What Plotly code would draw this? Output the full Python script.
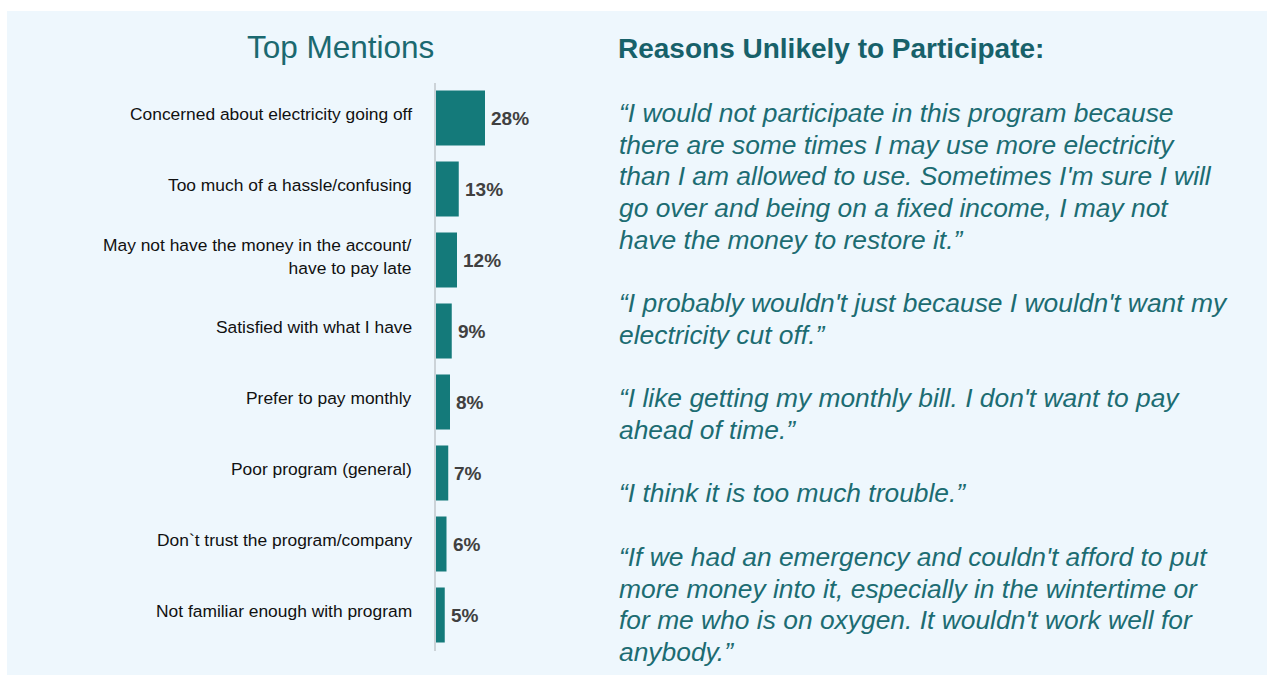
import plotly.graph_objects as go

# Survey results: top mentions for not participating
categories = [
    "Concerned about electricity going off",
    "Too much of a hassle/confusing",
    "May not have the money in the account/<br>have to pay late",
    "Satisfied with what I have",
    "Prefer to pay monthly",
    "Poor program (general)",
    "Don`t trust the program/company",
    "Not familiar enough with program",
]
values = [28, 13, 12, 9, 8, 7, 6, 5]
value_labels = [f"{v}%" for v in values]

chart_title = "Top Mentions"
quotes_heading = "Reasons Unlikely to Participate:"
quote_lines = [
    "“I would not participate in this program because",
    "there are some times I may use more electricity",
    "than I am allowed to use. Sometimes I'm sure I will",
    "go over and being on a fixed income, I may not",
    "have the money to restore it.”",
    "",
    "“I probably wouldn't just because I wouldn't want my",
    "electricity cut off.”",
    "",
    "“I like getting my monthly bill. I don't want to pay",
    "ahead of time.”",
    "",
    "“I think it is too much trouble.”",
    "",
    "“If we had an emergency and couldn't afford to put",
    "more money into it, especially in the wintertime or",
    "for me who is on oxygen. It wouldn't work well for",
    "anybody.”",
]

W, H = 1268, 675
FONT = "Liberation Sans"
BAR = "#147A7A"
TEAL_TITLE = "#1B6970"
TEAL_HEAD = "#17616A"
TEAL_QUOTE = "#1C6C72"
PANEL = "#EEF7FD"


def px_x(x):
    return x / W


def px_y(y):
    return 1 - y / H


fig = go.Figure()

fig.add_trace(go.Bar(
    y=categories,
    x=values,
    orientation="h",
    marker=dict(color=BAR, line=dict(width=0)),
    hoverinfo="skip",
))

annotations = []

# category labels, right-aligned left of the axis
for cat in categories:
    annotations.append(dict(
        x=px_x(414), xref="paper", xanchor="right",
        y=cat, yref="y", yanchor="middle", yshift=4,
        text=cat, align="right", showarrow=False,
        font=dict(family=FONT, size=17.4, color="#111111"),
    ))

# value labels just past the end of each bar
for cat, v, lab in zip(categories, values, value_labels):
    annotations.append(dict(
        x=v, xref="x", xanchor="left", xshift=4,
        y=cat, yref="y", yanchor="middle",
        text=f"<b>{lab}</b>", showarrow=False,
        font=dict(family=FONT, size=19, color="#404040"),
    ))

annotations.append(dict(
    x=px_x(340), xref="paper", xanchor="center",
    y=px_y(47), yref="paper", yanchor="middle",
    text=chart_title, showarrow=False,
    font=dict(family=FONT, size=31.5, color=TEAL_TITLE),
))

annotations.append(dict(
    x=px_x(616), xref="paper", xanchor="left",
    y=px_y(48), yref="paper", yanchor="middle",
    text=f"<b>{quotes_heading}</b>", showarrow=False,
    font=dict(family=FONT, size=28, color=TEAL_HEAD),
))

line_top, line_step = 113, 31.7
for i, line in enumerate(quote_lines):
    if not line:
        continue
    annotations.append(dict(
        x=px_x(617), xref="paper", xanchor="left",
        y=px_y(line_top + i * line_step), yref="paper", yanchor="middle",
        text=f"<i>{line}</i>", showarrow=False,
        font=dict(family=FONT, size=26.4, color=TEAL_QUOTE),
    ))

fig.update_layout(
    width=W, height=H,
    margin=dict(l=0, r=0, t=0, b=0),
    paper_bgcolor="white",
    plot_bgcolor="rgba(0,0,0,0)",
    showlegend=False,
    bargap=0.225,
    shapes=[dict(
        type="rect", xref="paper", yref="paper", layer="below",
        x0=px_x(7), x1=px_x(1267), y0=0, y1=px_y(11),
        fillcolor=PANEL, line=dict(width=0),
    )],
    annotations=annotations,
    xaxis=dict(
        domain=[px_x(436), px_x(536)],
        range=[0, 100 / 1.75],
        visible=False, fixedrange=True,
    ),
    yaxis=dict(
        domain=[px_y(650.5), px_y(82.5)],
        autorange="reversed",
        showticklabels=False, ticks="",
        showgrid=False, zeroline=False,
        showline=True, linecolor="#CCD3D8", linewidth=2,
        fixedrange=True,
    ),
)

fig.write_html("out.html")
